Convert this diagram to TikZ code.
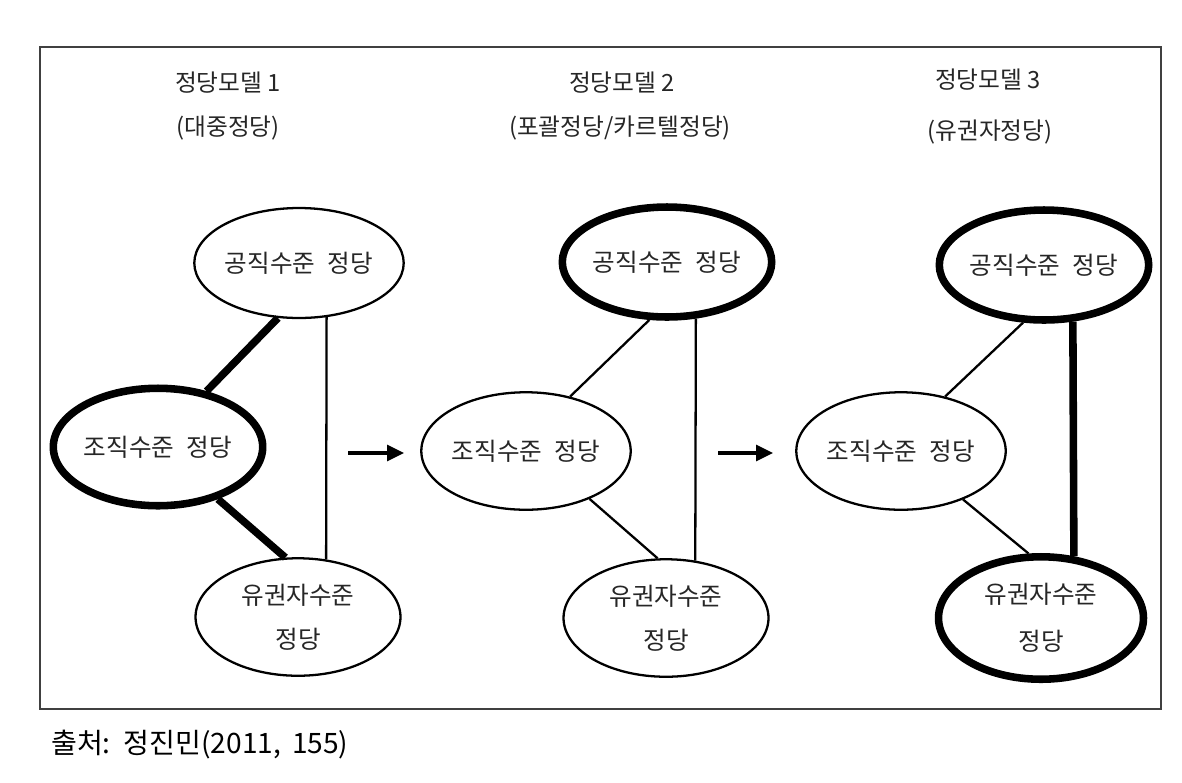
\documentclass[tikz,border=0pt]{standalone}
\usepackage{fontspec}
\setmainfont{Noto Sans CJK KR}
\usepackage{tikz}
\usetikzlibrary{shapes.geometric,arrows.meta}

\begin{document}
\begin{tikzpicture}[x=0.02cm,y=-0.02cm,
    every node/.style={font=\fontsize{14}{25}\selectfont,text=black!85},
    party/.style={ellipse,draw=black,line width=1.3pt,align=center,inner sep=0pt,
                  minimum width=4.1cm,minimum height=2.35cm},
    core/.style={party,line width=4.3pt},
    top/.style={minimum height=2.2cm},
    link/.style={line width=1.3pt},
    strong/.style={line width=4.3pt},
    step arrow/.style={line width=1.8pt,-{Triangle[length=0.34cm,width=0.32cm]}}]
    \useasboundingbox (0,0) rectangle (1182,782);
    \draw[line width=0.9pt,black!75] (40,47) rectangle (1161,709);
    % titles
    \node[font=\fontsize{13.5}{16}\selectfont] (T1) at (228,83) {정당모델 1};
    \node[font=\fontsize{13.5}{16}\selectfont] (S1) at (228,128) {(대중정당)};
    \node[font=\fontsize{13.5}{16}\selectfont] (T2) at (622,83) {정당모델 2};
    \node[font=\fontsize{13.5}{16}\selectfont] (S2) at (620,128) {(포괄정당/카르텔정당)};
    \node[font=\fontsize{13.5}{16}\selectfont] (T3) at (988,80) {정당모델 3};
    \node[font=\fontsize{13.5}{16}\selectfont] (S3) at (990,132) {(유권자정당)};
    % model 1
    \node[party,top] (G1) at (299,263) {공직수준\enspace 정당};
    \node[core] (J1) at (158,447) {조직수준\enspace 정당};
    \node[party] (U1) at (298,617) {유권자수준\\정당};
    \draw[strong] (J1.49) -- (G1.-111);
    \draw[strong] (J1.-41) -- (U1.102);
    \draw[link] (G1.-63) -- (U1.64);
    % model 2
    \node[core,top] (G2) at (667,262) {공직수준\enspace 정당};
    \node[party] (J2) at (526,451) {조직수준\enspace 정당};
    \node[party] (U2) at (666,618) {유권자수준\\정당};
    \draw[link] (J2.51) -- (G2.-107);
    \draw[link] (J2.-37) -- (U2.98);
    \draw[link] (G2.-63) -- (U2.63);
    % model 3
    \node[core,top] (G3) at (1044,265) {공직수준\enspace 정당};
    \node[party] (J3) at (901,451) {조직수준\enspace 정당};
    \node[core,minimum height=2.45cm] (U3) at (1041,618) {유권자수준\\[2pt]정당};
    \draw[link] (J3.51) -- (G3.-110);
    \draw[link] (J3.-38) -- (U3.101);
    \draw[strong] (G3.-63) -- (U3.62);
    % arrows between models
    \coordinate (a1) at (348,453);
    \coordinate (b1) at (404,453);
    \coordinate (a2) at (718,453);
    \coordinate (b2) at (773,453);
    \draw[step arrow] (a1) -- (b1);
    \draw[step arrow] (a2) -- (b2);
    % source
    \node[anchor=west,text=black,font=\fontsize{16}{19}\selectfont] (src) at (45,745) {출처:\, 정진민(2011,\, 155)};
\end{tikzpicture}
\end{document}
